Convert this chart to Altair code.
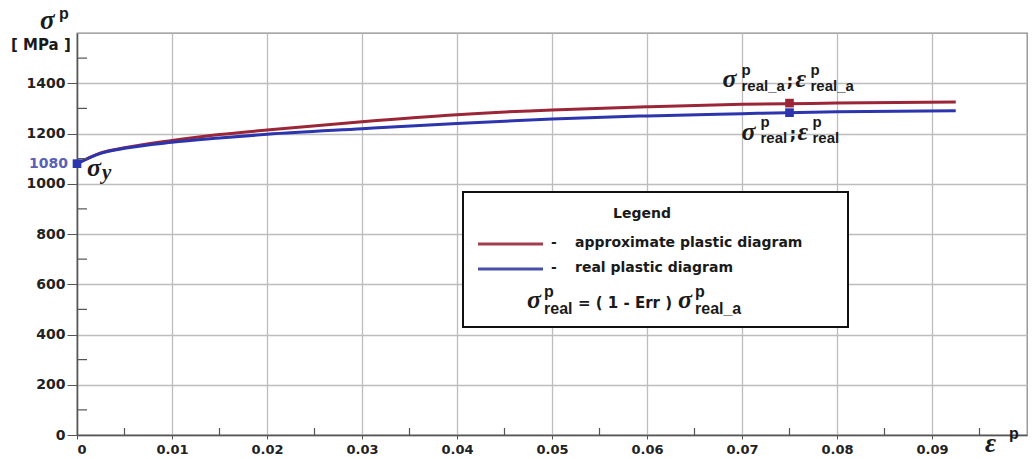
import altair as alt
import pandas as pd

# ---- data ----
strain = [0, 0.0025, 0.005, 0.01, 0.015, 0.02, 0.03, 0.04, 0.05, 0.06, 0.07, 0.08, 0.0925]
approx = [1080, 1123, 1143, 1172, 1196, 1214, 1247, 1275, 1294, 1306, 1316, 1321, 1325]
real = [1080, 1121, 1141, 1165, 1182, 1197, 1219, 1240, 1258, 1270, 1279, 1287, 1291]

x_ticks = [0, 0.01, 0.02, 0.03, 0.04, 0.05, 0.06, 0.07, 0.08, 0.09]
x_minor = [0.005, 0.015, 0.025, 0.035, 0.045, 0.055, 0.065, 0.075, 0.085, 0.095]
y_ticks = [0, 200, 400, 600, 800, 1000, 1200, 1400]
y_minor = [100, 300, 500, 700, 900, 1100, 1300, 1500]

marker_x = [0, 0.075, 0.075]
marker_y = [1080, 1321, 1283]
marker_s = ["real", "approx", "real"]

RED = "#9b2638"
BLUE = "#2c34ae"
W, H = 950, 402

SANS_B = "DejaVu Sans"
SANS = "Liberation Sans"
SERIF = "Liberation Serif"

curves = pd.DataFrame({
    "strain": strain * 2,
    "stress": approx + real,
    "series": ["approx"] * len(strain) + ["real"] * len(strain),
})

xs = alt.Scale(domain=[0, 0.1], nice=False, zero=False)
ys = alt.Scale(domain=[0, 1600], nice=False)

base = alt.Chart(curves).mark_line(strokeWidth=3, interpolate="monotone").encode(
    x=alt.X("strain:Q", scale=xs,
            axis=alt.Axis(values=x_ticks, format=".2~f", title=None, grid=True,
                          gridColor="#bdbdbd", gridWidth=1.3, domainColor="#555",
                          domainWidth=1.5, tickColor="#555", tickSize=4,
                          labelPadding=4, labelFont=SANS_B, labelFontWeight="bold",
                          labelFontSize=13, labelColor="#222")),
    y=alt.Y("stress:Q", scale=ys,
            axis=alt.Axis(values=y_ticks, format="d", title=None, grid=True,
                          gridColor="#bdbdbd", gridWidth=1.3, domainColor="#555",
                          domainWidth=1.5, tickColor="#555", tickSize=10, labelPadding=2,
                          labelFont=SANS_B, labelFontWeight="bold", labelFontSize=14,
                          labelColor="#222")),
    color=alt.Color("series:N", scale=alt.Scale(domain=["approx", "real"], range=[RED, BLUE]),
                    legend=None),
    order=alt.Order("series:N"),
)

minor_x = alt.Chart(pd.DataFrame({"m": x_minor})).mark_rule(color="#555", strokeWidth=1.2).encode(
    x="m:Q", y=alt.value(H - 7), y2=alt.value(H))
minor_y = alt.Chart(pd.DataFrame({"m": y_minor})).mark_rule(color="#555", strokeWidth=1.2).encode(
    y="m:Q", x=alt.value(0), x2=alt.value(10))

markers = alt.Chart(pd.DataFrame({"x": marker_x, "y": marker_y, "s": marker_s})).mark_square(
    size=75, opacity=1).encode(
    x="x:Q", y="y:Q",
    color=alt.Color("s:N", scale=alt.Scale(domain=["approx", "real"], range=["#8a1a2c", "#4654c6"]),
                    legend=None))

one = pd.DataFrame({"k": [0]})


def dtext(text, x, y, dx, dy, size, font, style="normal", weight="normal",
          color="#1a1a1a", align="left", baseline="alphabetic"):
    return alt.Chart(one).mark_text(
        text=text, dx=dx, dy=dy, fontSize=size, font=font, fontStyle=style,
        fontWeight=weight, color=color, align=align, baseline=baseline).encode(
        x=alt.datum(x), y=alt.datum(y))


def ptext(text, px, py, size, font, style="normal", weight="normal",
          color="#1a1a1a", align="left", baseline="alphabetic"):
    return alt.Chart(one).mark_text(
        text=text, fontSize=size, font=font, fontStyle=style,
        fontWeight=weight, color=color, align=align, baseline=baseline).encode(
        x=alt.value(px), y=alt.value(py))


GW = "bold"   # weight of the italic greek letters
SW = "bold"   # weight of the sub/superscripts

layers = [base, minor_x, minor_y, markers]

# 1080 and sigma_y
layers += [
    dtext("1080", 0, 1080, -9, 0, 14, SANS_B, weight="bold", color="#5a60b8",
          align="right", baseline="middle"),
    dtext("σ", 0, 1080, 10, 12, 26, SERIF, style="italic", weight=GW),
    dtext("y", 0, 1080, 25, 15, 21, SERIF, style="italic", weight=GW),
]

# label above red marker
ax, ay = 0.075, 1321
layers += [
    dtext("σ", ax, ay, -67, -16, 26, SERIF, style="italic", weight=GW),
    dtext("p", ax, ay, -48, -28, 15, SANS, weight=SW),
    dtext("real_a", ax, ay, -48, -12, 15, SANS, weight=SW),
    dtext(";", ax, ay, -3, -16, 17, SANS_B, weight="bold"),
    dtext("ε", ax, ay, 6, -16, 26, SERIF, style="italic", weight=GW),
    dtext("p", ax, ay, 21, -28, 15, SANS, weight=SW),
    dtext("real_a", ax, ay, 21, -12, 15, SANS, weight=SW),
]
# label below blue marker
bx, by = 0.075, 1283
layers += [
    dtext("σ", bx, by, -48, 27, 26, SERIF, style="italic", weight=GW),
    dtext("p", bx, by, -29, 14, 15, SANS, weight=SW),
    dtext("real", bx, by, -29, 30, 15, SANS, weight=SW),
    dtext(";", bx, by, 0, 27, 17, SANS_B, weight="bold"),
    dtext("ε", bx, by, 8, 27, 26, SERIF, style="italic", weight=GW),
    dtext("p", bx, by, 23, 14, 15, SANS, weight=SW),
    dtext("real", bx, by, 23, 30, 15, SANS, weight=SW),
]

# axis titles
layers += [
    ptext("σ", -37, -4, 27, SERIF, style="italic", weight=GW),
    ptext("p", -18, -14, 16, SANS, weight="bold"),
    ptext("[ MPa ]", -66, 17, 15, SANS_B, weight="bold"),
    ptext("ε", 908, 419, 27, SERIF, style="italic", weight=GW),
    ptext("p", 932, 406, 16, SANS, weight="bold"),
]

# legend box
legend_box = alt.Chart(one).mark_rect(fill="white", stroke="#111", strokeWidth=2).encode(
    x=alt.value(386), x2=alt.value(771), y=alt.value(159), y2=alt.value(294))
layers += [
    legend_box,
    ptext("Legend", 565, 185, 14, SANS_B, weight="bold", align="center"),
    alt.Chart(one).mark_rule(color="#a43d4e", strokeWidth=3).encode(
        x=alt.value(401), x2=alt.value(466), y=alt.value(211)),
    alt.Chart(one).mark_rule(color="#4650a8", strokeWidth=3).encode(
        x=alt.value(401), x2=alt.value(466), y=alt.value(236)),
    ptext("-", 474, 214, 14, SANS_B, weight="bold"),
    ptext("approximate plastic diagram", 498, 214, 14, SANS_B, weight="bold"),
    ptext("-", 474, 239, 14, SANS_B, weight="bold"),
    ptext("real plastic diagram", 498, 239, 14, SANS_B, weight="bold"),
    ptext("σ", 450, 275, 26, SERIF, style="italic", weight=GW),
    ptext("p", 467, 264, 16, SANS, weight=SW),
    ptext("real", 467, 281, 16, SANS, weight=SW),
    ptext("= ( 1 - Err )", 501, 275, 15, SANS_B, weight="bold"),
    ptext("σ", 601, 275, 26, SERIF, style="italic", weight=GW),
    ptext("p", 618, 264, 16, SANS, weight=SW),
    ptext("real_a", 618, 281, 16, SANS, weight=SW),
]

chart = alt.layer(*layers).properties(
    width=W, height=H,
    autosize=alt.AutoSizeParams(type="none"),
    padding={"left": 77, "top": 33, "right": 7, "bottom": 24},
    background="white",
).configure_view(stroke="#8a8a8a", strokeWidth=1.3)

chart.save("out.html", embed_options={"renderer": "svg", "actions": False})
